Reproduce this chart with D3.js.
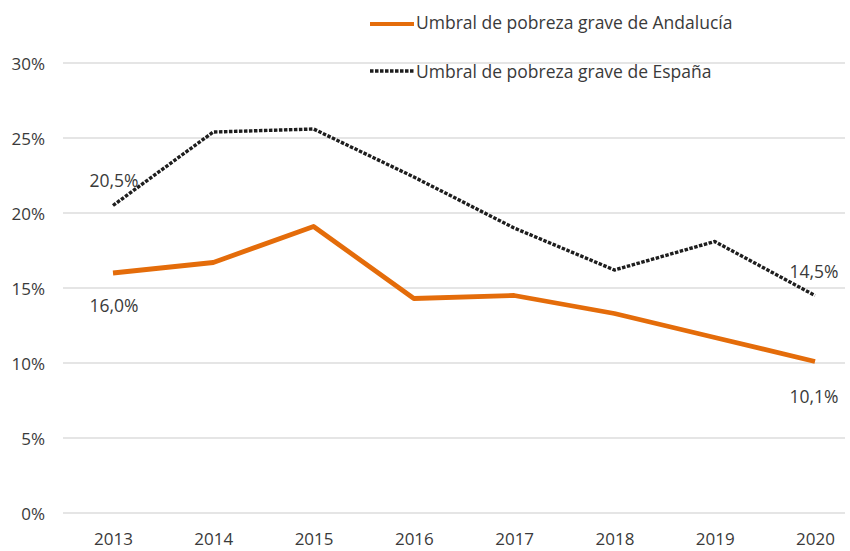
<!DOCTYPE html>
<html><head><meta charset="utf-8">
<script src="https://cdn.jsdelivr.net/npm/d3@7"></script>
<style>body{margin:0;background:#fff}svg{display:block}text{font-family:"Open Sans",sans-serif;fill:#3a3a3a}</style>
</head><body><svg id="c" width="850" height="551"></svg>
<script>
const years = ["2013","2014","2015","2016","2017","2018","2019","2020"];
const andalucia = [16.0,16.7,19.1,14.3,14.5,13.3,11.7,10.1];
const espana = [20.5,25.4,25.6,22.4,19.0,16.2,18.1,14.5];
const yTicks = [0,5,10,15,20,25,30];
const seriesNames = ["Umbral de pobreza grave de Andalucía","Umbral de pobreza grave de España"];

const svg = d3.select("#c");
const x = d3.scalePoint().domain(years).range([113,815]);
const y = d3.scaleLinear().domain([0,30]).range([513,63]);

// gridlines
svg.append("g").selectAll("line").data(yTicks).join("line")
  .attr("x1",63).attr("x2",845).attr("y1",d=>y(d)).attr("y2",d=>y(d))
  .attr("stroke","#dcdcdc").attr("stroke-width",1.3);

// y axis labels
const yAxis = d3.axisLeft(y).tickValues(yTicks).tickFormat(d=>d+"%").tickSize(0).tickPadding(0);
const gy = svg.append("g").attr("transform","translate(45,0)").call(yAxis);
gy.select(".domain").remove();
gy.selectAll("text").style("font-size","17px").attr("fill","#3a3a3a").attr("dy","0.36em").style("font-family","'Open Sans',sans-serif");

// x axis labels
const xAxis = d3.axisBottom(x).tickSize(0).tickPadding(0);
const gx = svg.append("g").attr("transform","translate(0,545)").call(xAxis);
gx.select(".domain").remove();
gx.selectAll("text").attr("dy",0).style("font-size","17px").attr("fill","#3a3a3a").style("font-family","'Open Sans',sans-serif");

const line = d3.line().x((d,i)=>x(years[i])).y(d=>y(d));
svg.append("path").datum(espana).attr("d",line).attr("fill","none")
  .attr("stroke","#1e1e1e").attr("stroke-width",3.4).attr("stroke-dasharray","3.5,1.5").attr("stroke-linejoin","round");
svg.append("path").datum(andalucia).attr("d",line).attr("fill","none")
  .attr("stroke","#e46c0a").attr("stroke-width",4.8).attr("stroke-linejoin","round");

// data labels
const fmt = v => v.toFixed(1).replace(".",",")+"%";
const lab = [
  {t:fmt(espana[0]), x:x(years[0])+1, y:y(espana[0])-19},
  {t:fmt(andalucia[0]), x:x(years[0])+1, y:y(andalucia[0])+39},
  {t:fmt(espana[7]), x:x(years[7])-1, y:y(espana[7])-18},
  {t:fmt(andalucia[7]), x:x(years[7])-1, y:y(andalucia[7])+41}
];
svg.append("g").selectAll("text").data(lab).join("text")
  .attr("x",d=>d.x).attr("y",d=>d.y).attr("text-anchor","middle")
  .style("font-size","17.5px").text(d=>d.t);

// legend
const leg = svg.append("g");
leg.append("line").attr("x1",370).attr("x2",414).attr("y1",24).attr("y2",24)
  .attr("stroke","#e46c0a").attr("stroke-width",4);
leg.append("line").attr("x1",370).attr("x2",414).attr("y1",71).attr("y2",71)
  .attr("stroke","#1e1e1e").attr("stroke-width",3.4).attr("stroke-dasharray","3.5,1.5");
leg.append("text").attr("x",416).attr("y",29).style("font-size","17.5px").text(seriesNames[0]);
leg.append("text").attr("x",416).attr("y",78).style("font-size","17.5px").text(seriesNames[1]);
</script></body></html>
